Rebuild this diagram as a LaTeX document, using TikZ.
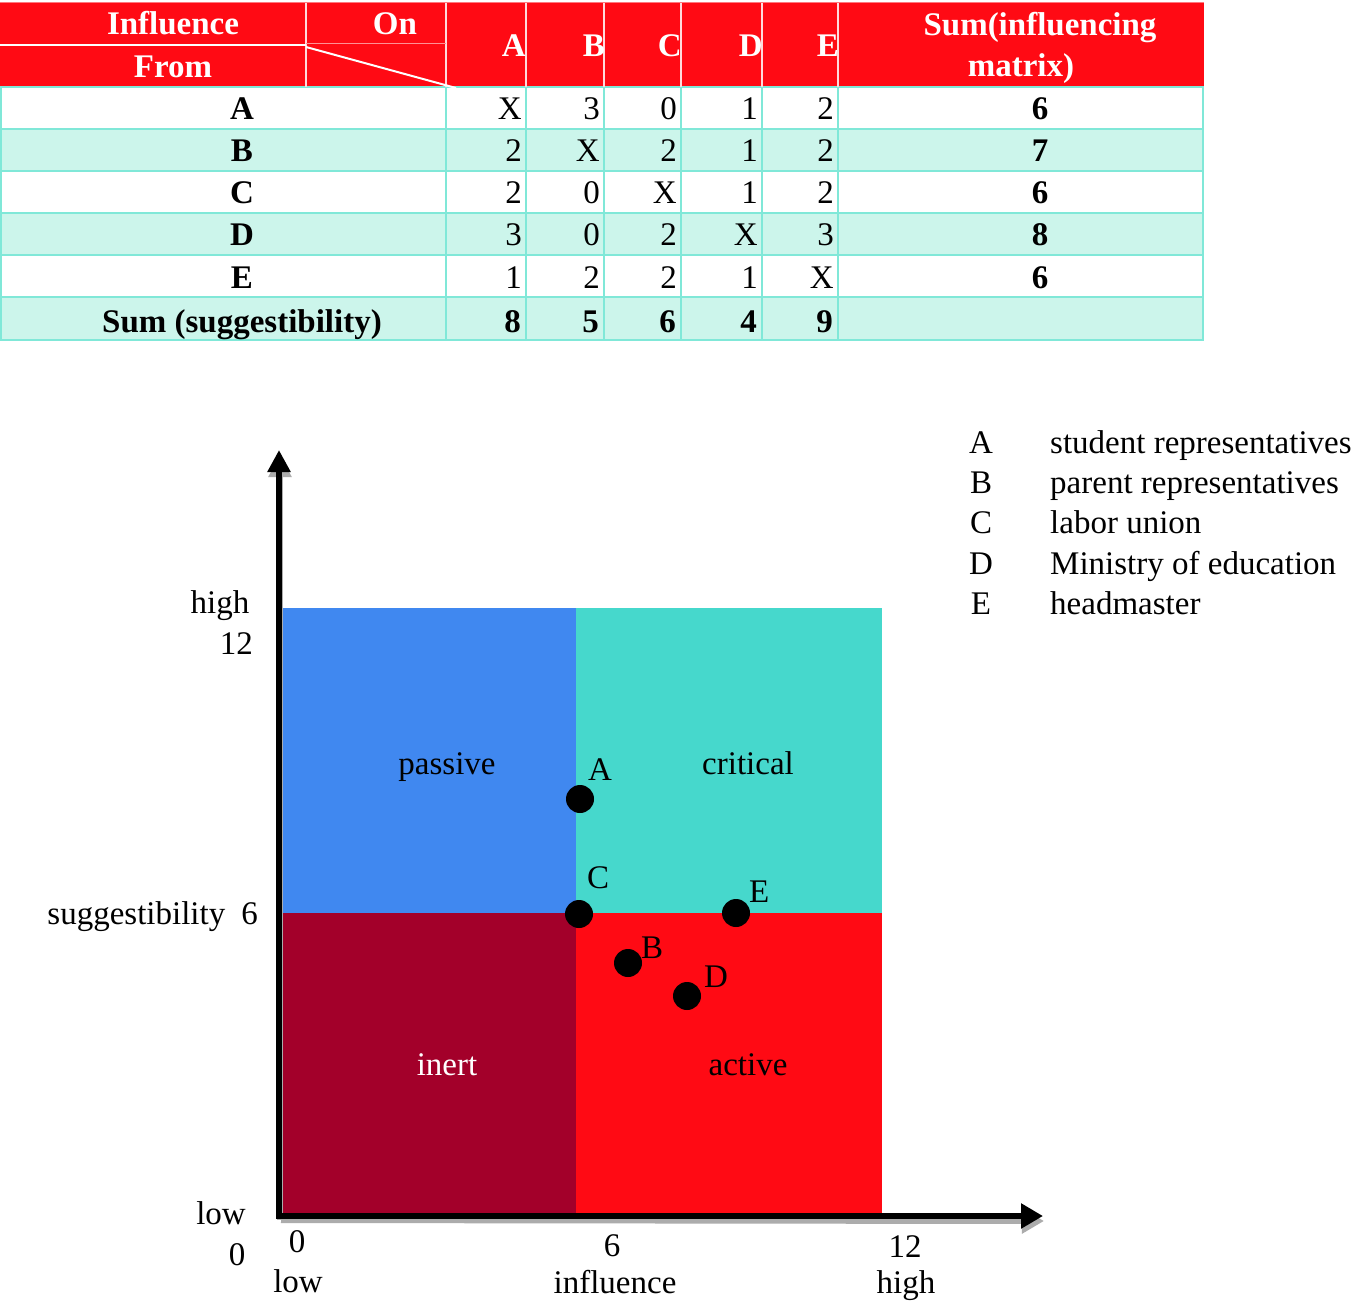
\documentclass[tikz,border=0pt]{standalone}
\usepackage{fontspec}
\setmainfont{Liberation Serif}
\usetikzlibrary{arrows.meta}
\definecolor{hdr}{RGB}{255,10,20}
\definecolor{mint}{RGB}{204,245,235}
\definecolor{tq}{RGB}{128,232,216}
\definecolor{passiveC}{RGB}{64,136,240}
\definecolor{criticalC}{RGB}{70,216,204}
\definecolor{inertC}{RGB}{163,0,42}
\definecolor{activeC}{RGB}{255,10,20}
\begin{document}
\begin{tikzpicture}[x=1pt,y=-1pt,
  every node/.style={inner sep=0pt, font=\fontsize{33}{40}\selectfont},
  hdrtxt/.style={text=white, font=\fontsize{33}{40}\selectfont\bfseries},
  bold/.style={font=\fontsize{33}{40}\selectfont\bfseries},
  dot/.style={circle, fill=black, minimum size=28pt},
  grid/.style={draw=tq, line width=2pt},
  wline/.style={draw=white, line width=1.6pt}]
\useasboundingbox (0,0) rectangle (1358,1308);
\fill[white] (0,0) rectangle (1358,1308);

% ---------------- table ----------------
\fill[hdr] (0,3) rectangle (1204,87);
\foreach \ya/\yb in {129/171,213/255,297/340}
  \fill[mint] (0,\ya) rectangle (1204,\yb);
\foreach \yy in {87,129,171,213,255,297,340}
  \draw[grid] (0,\yy) -- (1204,\yy);
\foreach \xx in {1,446,526,604,681,762,838,1203}
  \draw[grid] (\xx,87) -- (\xx,340);
% header lines
\foreach \xx in {306,446,526,604,681,762,838}
  \draw[wline, draw=white!85!hdr] (\xx,3) -- (\xx,87);
\draw[draw=hdr!55!white, line width=1pt] (0,3) -- (1204,3);
\draw[wline, line width=2pt] (0,45) -- (306,45);
\draw[draw=hdr!45!white, line width=1pt] (306,44) -- (446,44);
\draw[wline, line width=2pt] (306,47) -- (456,88);

% header texts
\node[hdrtxt, anchor=base] (hInf) at (173,35) {Influence};
\node[hdrtxt, anchor=base] (hFrom) at (173,78) {From};
\node[hdrtxt, anchor=base] (hOn) at (395,35) {On};
\foreach \c/\xr in {A/526,B/605,C/682,D/763,E/839}
  \node[hdrtxt, anchor=base east] (h\c) at (\xr,57) {\c};
\node[hdrtxt, anchor=base] (hSum1) at (1040,36) {Sum(influencing};
\node[hdrtxt, anchor=base] (hSum2) at (1021,77) {matrix)};

% body
\foreach \r/\yb/\vals/\s in {A/120/{X,3,0,1,2}/6, B/162/{2,X,2,1,2}/7, C/204/{2,0,X,1,2}/6, D/246/{3,0,2,X,3}/8, E/288/{1,2,2,1,X}/6}{
  \node[bold, anchor=base] (rl\r) at (242,\yb) {\r};
  \foreach \v [count=\k] in \vals {
    \pgfmathsetmacro{\xr}{{526,604,681,762,838}[\k-1]}
    \ifx\v X
      \node[anchor=base east] (v\r\k) at (\xr+1,\yb) {X};
    \else
      \node[anchor=base east] (v\r\k) at (\xr-4,\yb) {\v};
    \fi
  }
  \node[bold, anchor=base] (s\r) at (1040,\yb) {\s};
}
\node[bold, anchor=base] (rlSum) at (242,332) {Sum (suggestibility)};
\foreach \v/\xr [count=\k] in {8/526,5/604,6/681,4/762,9/838}
  \node[bold, anchor=base east] (tot\k) at (\xr-5,332) {\v};

% ---------------- chart ----------------
\fill[passiveC] (280,608) rectangle (576,913);
\fill[criticalC] (576,608) rectangle (882,913);
\fill[inertC] (280,913) rectangle (576,1216);
\fill[activeC] (576,913) rectangle (882,1216);

\node[anchor=base] (lpassive) at (447,774) {passive};
\node[anchor=base] (lcritical) at (748,774) {critical};
\node[anchor=base, text=white] (linert) at (447,1075) {inert};
\node[anchor=base] (lactive) at (748,1075) {active};

% axes
\coordinate (o) at (279,1216);
\coordinate (ytip) at (279,450);
\coordinate (xtip) at (1043,1216);
\draw[gray!65, line width=6pt, -{Triangle[length=22pt,width=24pt]}] (281,1220) -- (1044,1221);
\draw[gray!65, line width=6pt, -{Triangle[length=22pt,width=22pt]}] (280,1220) -- (280,455);
\draw[black, line width=6pt, -{Triangle[length=22pt,width=24pt]}] (276,1216) -- (xtip);
\draw[black, line width=6pt, -{Triangle[length=22pt,width=22pt]}] (279,1219) -- (ytip);

% points
\node[dot] (pA) at (580,799) {};
\node[dot] (pC) at (579,914) {};
\node[dot] (pE) at (736,913) {};
\node[dot] (pB) at (628,963) {};
\node[dot] (pD) at (687,996) {};
\node[anchor=base west] (tA) at (588,780) {A};
\node[anchor=base west] (tC) at (587,888) {C};
\node[anchor=base west] (tE) at (749,902) {E};
\node[anchor=base west] (tB) at (641,958) {B};
\node[anchor=base west] (tD) at (704,987) {D};

% axis labels
\node[anchor=base] (yhigh) at (220,613) {high};
\node[anchor=base east] (y12) at (253,654) {12};
\node[anchor=base east] (ysug) at (258,924) {suggestibility\hspace{16pt}6};
\node[anchor=base] (ylow) at (221,1224) {low};
\node[anchor=base] (y0) at (237,1265) {0};
\node[anchor=base] (x0) at (297,1252) {0};
\node[anchor=base] (xlow) at (298,1292) {low};
\node[anchor=base] (x6) at (612,1256) {6};
\node[anchor=base] (xinf) at (615,1293) {influence};
\node[anchor=base] (x12) at (905,1257) {12};
\node[anchor=base] (xhigh) at (906,1293) {high};

% legend
\foreach \c/\t/\yb in {A/student representatives/453, B/parent representatives/493, C/labor union/533, D/Ministry of education/574, E/headmaster/614}{
  \node[anchor=base] (leg\c) at (981,\yb) {\c};
  \node[anchor=base west] (legt\c) at (1050,\yb) {\t};
}
\end{tikzpicture}
\end{document}
